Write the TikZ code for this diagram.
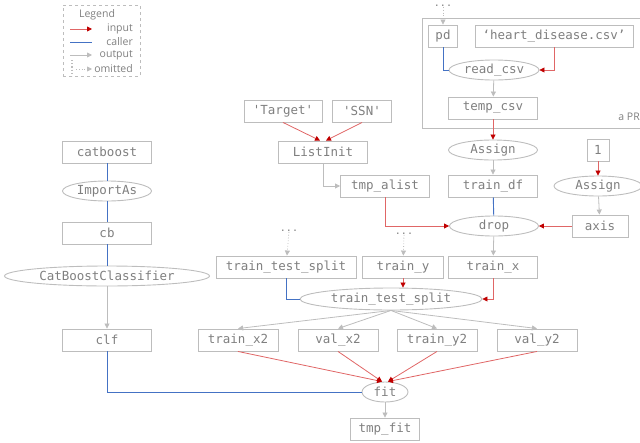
\documentclass[tikz,border=0pt]{standalone}
\usepackage{fontspec}
\setmainfont{Open Sans}
\setmonofont{DejaVu Sans Mono}
\usetikzlibrary{arrows.meta,shapes.geometric}

\definecolor{inred}{HTML}{E06666}
\definecolor{tipred}{HTML}{C00000}
\definecolor{callblue}{HTML}{4472C4}
\definecolor{outgray}{HTML}{BDBDBD}
\definecolor{txtgray}{HTML}{7F7F7F}

\tikzset{
  box/.style={draw=outgray, line width=0.9pt, rectangle, minimum width=89pt, minimum height=22pt,
    inner sep=0pt, text=txtgray, font=\ttfamily\fontsize{12.5}{14}\selectfont},
  call/.style={draw=outgray, line width=0.9pt, ellipse, minimum width=89pt, minimum height=20pt,
    inner sep=0pt, text=txtgray, font=\ttfamily\fontsize{12.5}{14}\selectfont},
  dots/.style={text=txtgray, inner sep=0pt, font=\ttfamily\fontsize{10}{10}\selectfont},
  lgd/.style={text=txtgray, inner sep=0pt, font=\fontsize{10.5}{11}\selectfont},
  inarr/.style={draw=inred, line width=0.8pt, -{Triangle[length=5pt,width=5pt,color=tipred]}},
  callln/.style={draw=callblue, line width=0.9pt},
  outarr/.style={draw=outgray, line width=0.8pt, -{Triangle[length=5pt,width=5pt]}},
  omitarr/.style={draw=outgray, line width=0.8pt, dotted, -{Triangle[length=5pt,width=5pt]}},
}

\begin{document}
\begin{tikzpicture}[x=1pt,y=-1pt]
\useasboundingbox (0,0) rectangle (640,442);

% legend
\node[draw=outgray, dashed, line width=0.8pt, minimum width=77pt, minimum height=71pt] (leg) at (101.5,40.5) {};
\node[lgd] (ltitle) at (97,15) {Legend};
\coordinate (la1) at (70,29); \coordinate (lb1) at (92,29);
\coordinate (la2) at (70,42); \coordinate (lb2) at (92,42);
\coordinate (la3) at (70,55); \coordinate (lb3) at (92,55);
\coordinate (la4) at (76,69); \coordinate (lb4) at (92,69);
\coordinate (lv1) at (72,60); \coordinate (lv2) at (72,76);
\draw[inarr] (la1) -- (lb1);
\draw[callln] (la2) -- (lb2);
\draw[outarr] (la3) -- (lb3);
\draw[omitarr] (la4) -- (lb4);
\draw[outgray, line width=1.2pt, dotted] (lv1) -- (lv2);
\node[lgd, anchor=east] (lin) at (133,29) {input};
\node[lgd, anchor=east] (lcall) at (133,42) {caller};
\node[lgd, anchor=east] (lout) at (133,55) {output};
\node[lgd, anchor=east] (lomit) at (133,69) {omitted};

% read the csv
\node[draw=outgray, line width=0.9pt, minimum width=219pt, minimum height=110pt, anchor=north west] (clu) at (422,18) {};
\node[lgd, anchor=east] (clul) at (640,117) {a PR};
\node[dots] (d1) at (443,6) {...};
\node[box, minimum width=29pt] (pd) at (443,36) {pd};
\node[box, minimum width=158pt] (hd) at (554,36) {‘heart\_disease.csv’};
\node[call, minimum width=90pt] (rc) at (494,70) {read\_csv};
\node[box] (tc) at (493,108) {temp\_csv};
\draw[omitarr] (d1) -- (pd);
\draw[callln] (pd.south) |- (rc.west);
\draw[inarr] (hd.south) |- (rc.east);
\draw[outarr] (rc) -- (tc);

% drop
\node[call] (as1) at (493,150) {Assign};
\node[box] (tdf) at (493,186) {train\_df};
\node[call] (dr) at (494,226) {drop};
\node[box, minimum width=22pt] (one) at (598,150) {1};
\node[call, minimum width=88pt] (as2) at (598,186) {Assign};
\node[box, minimum width=56pt] (ax) at (600,226) {axis};
\node[box, minimum width=78pt] (tg) at (283,111) {'Target'};
\node[box, minimum width=59pt] (ssn) at (362,111) {'SSN'};
\node[box] (li) at (323,152) {ListInit};
\node[box] (tal) at (385,186) {tmp\_alist};
\draw[inarr] (tc) -- (as1);
\draw[outarr] (as1) -- (tdf);
\draw[callln] (tdf) -- (dr);
\draw[inarr] (one) -- (as2);
\draw[outarr] (as2) -- (ax);
\draw[inarr] (ax) -- (dr);
\draw[inarr] (tg.south) -- ([xshift=-3pt]li.north);
\draw[inarr] (ssn.south) -- ([xshift=3pt]li.north);
\draw[outarr] (li.south) |- (tal.west);
\draw[inarr] (tal.south) |- (dr.west);

% catboost
\node[box] (cat) at (107,152) {catboost};
\node[call] (imp) at (107,191) {ImportAs};
\node[box] (cb) at (107,233) {cb};
\node[call, minimum width=205pt] (cbc) at (107,276) {CatBoostClassifier};
\node[box] (clf) at (107,340) {clf};
\draw[callln] (cat) -- (imp);
\draw[callln] (imp) -- (cb);
\draw[callln] (cb) -- (cbc);
\draw[outarr] (cbc) -- (clf);

% split
\node[dots] (d2) at (289,231) {...};
\node[box, minimum width=140pt] (ttsb) at (286,267) {train\_test\_split};
\node[dots] (d3) at (404,234) {...};
\node[box, minimum width=81pt] (ty) at (403,267) {train\_y};
\node[box] (tx) at (493,267) {train\_x};
\node[call, minimum width=182pt, minimum height=22pt] (tts) at (391,299) {train\_test\_split};
\node[box, minimum width=80pt] (tx2) at (238,340) {train\_x2};
\node[box, minimum width=80pt] (vx2) at (338,340) {val\_x2};
\node[box, minimum width=80pt] (ty2) at (437,340) {train\_y2};
\node[box, minimum width=80pt] (vy2) at (537,340) {val\_y2};
\draw[outarr] (dr) -- (tx);
\draw[omitarr] (d2) -- (ttsb);
\draw[omitarr] (d3) -- (ty);
\draw[callln] (ttsb.south) |- (tts.west);
\draw[inarr] (ty.south) -- (ty.south |- tts.north);
\draw[inarr] (tx.south) |- (tts.east);
\draw[outarr] (tts.south) -- (tx2.north);
\draw[outarr] (tts.south) -- (vx2.north);
\draw[outarr] (tts.south) -- (ty2.north);
\draw[outarr] (tts.south) -- (vy2.north);

% fit
\node[call, minimum width=46pt] (fit) at (385,392) {fit};
\node[box, minimum width=69pt] (tf) at (385,429) {tmp\_fit};
\draw[inarr] (tx2.south) -- ([xshift=-3pt]fit.north);
\draw[inarr] (vx2.south) -- ([xshift=-3pt]fit.north);
\draw[inarr] (ty2.south) -- ([xshift=3pt]fit.north);
\draw[inarr] (vy2.south) -- ([xshift=3pt]fit.north);
\draw[callln] (clf.south) |- (fit.west);
\draw[outarr] (fit) -- (tf);
\end{tikzpicture}
\end{document}
